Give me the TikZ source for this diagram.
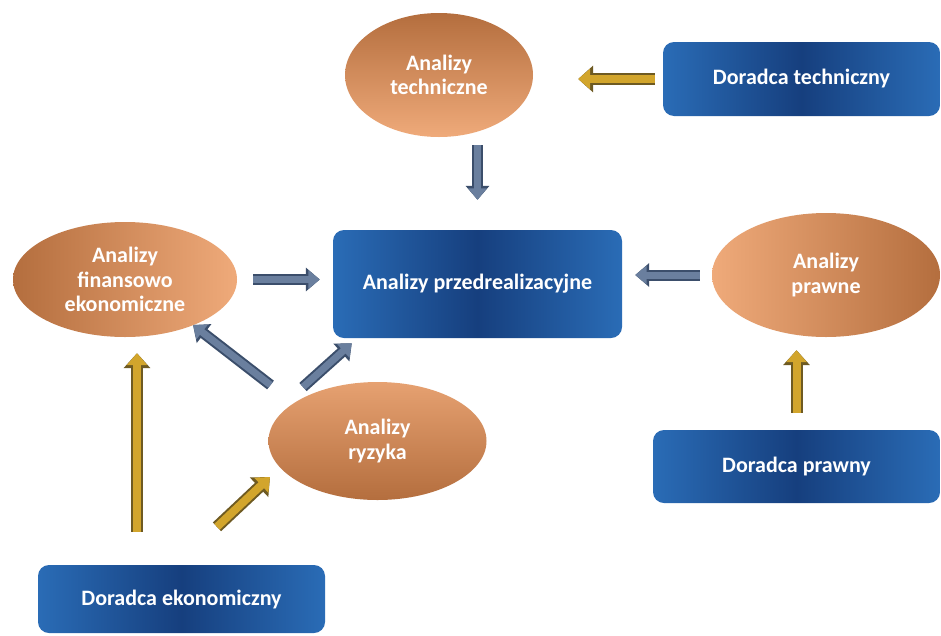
\documentclass[tikz,border=0pt]{standalone}
\usepackage{fontspec}
\setmainfont{Carlito}
\usetikzlibrary{shapes.geometric,arrows.meta,calc}
\definecolor{orlight}{HTML}{EFAA7A}
\definecolor{ordark}{HTML}{B46E3E}
\definecolor{bllight}{HTML}{2A6CB6}
\definecolor{bldark}{HTML}{163F7E}
\definecolor{arrbl}{HTML}{6A7F9E}
\definecolor{arrbldk}{HTML}{3B4E6B}
\definecolor{arrgd}{HTML}{D2A52C}
\definecolor{arrgddk}{HTML}{6E5A22}
\begin{document}
\begin{tikzpicture}[x=1pt,y=-1pt,
  txt/.style={text=white, font=\bfseries\fontsize{22}{24.5}\selectfont, align=center},
  bbox/.style={txt, rectangle, rounded corners=11pt, inner sep=0pt,
    left color=bllight, right color=bllight, middle color=bldark},
  ell/.style={txt, ellipse, inner sep=0pt},
  bluearr/.style={preaction={draw=arrbldk, line width=11pt, -{Triangle[length=14pt,width=23pt]}},
    draw=arrbl, line width=7pt, -{Triangle[length=11.5pt,width=18pt]}},
  goldarr/.style={preaction={draw=arrgddk, line width=12pt, -{Triangle[length=15pt,width=26pt]}},
    draw=arrgd, line width=8pt, -{Triangle[length=12pt,width=20pt]}}
]
\useasboundingbox[fill=white] (0,0) rectangle (941,635);

\node[ell, minimum width=188pt, minimum height=124pt, top color=ordark, bottom color=orlight] (tech) at (439,75) {Analizy\\techniczne};
\node[bbox, minimum width=277pt, minimum height=74pt] (dortech) at (801.5,79) {Doradca techniczny};
\node[bbox, minimum width=289pt, minimum height=108pt] (cent) at (477.5,284) {Analizy przedrealizacyjne};
\node[ell, minimum width=224pt, minimum height=115pt, left color=ordark, right color=orlight] (fin) at (125,279.5) {Analizy\\finansowo\\ekonomiczne};
\node[ell, minimum width=228pt, minimum height=124pt, left color=orlight, right color=ordark] (praw) at (826,275) {Analizy\\prawne};
\node[ell, minimum width=218pt, minimum height=118pt, top color=orlight!85!ordark, bottom color=ordark] (ryz) at (377.5,441) {Analizy\\ryzyka};
\node[bbox, minimum width=287pt, minimum height=73pt] (dorpr) at (796.5,466.5) {Doradca prawny};
\node[bbox, minimum width=287pt, minimum height=68pt] (dorek) at (181.5,599) {Doradca ekonomiczny};

\draw[goldarr, shorten <=8pt, shorten >=45pt] (dortech.west) -- (dortech.west -| tech.east);
\draw[bluearr, shorten <=8pt, shorten >=30pt] (tech.south -| cent.north) -- (cent.north);
\draw[bluearr, shorten <=16pt, shorten >=13pt] (fin.east) -- (fin.east -| cent.west);
\draw[bluearr, shorten <=12pt, shorten >=13pt] (praw.west) -- (praw.west -| cent.east);
\draw[goldarr, shorten <=17pt, shorten >=13pt] (dorpr.north) -- (dorpr.north |- praw.south);
\draw[bluearr] ($(ryz.center)+(-107,-56)$) -- ($(fin.center)+(68,45.5)$);
\draw[bluearr] ($(ryz.center)+(-74.5,-54)$) -- ($(cent.south west)+(19,5)$);
\draw[goldarr] ($(dorek.north)+(-44.5,-33)$) -- ($(fin.south)+(12,16)$);
\draw[goldarr] ($(dorek.north)+(35.5,-38)$) -- ($(ryz.center)+(-107.5,36)$);
\end{tikzpicture}
\end{document}
